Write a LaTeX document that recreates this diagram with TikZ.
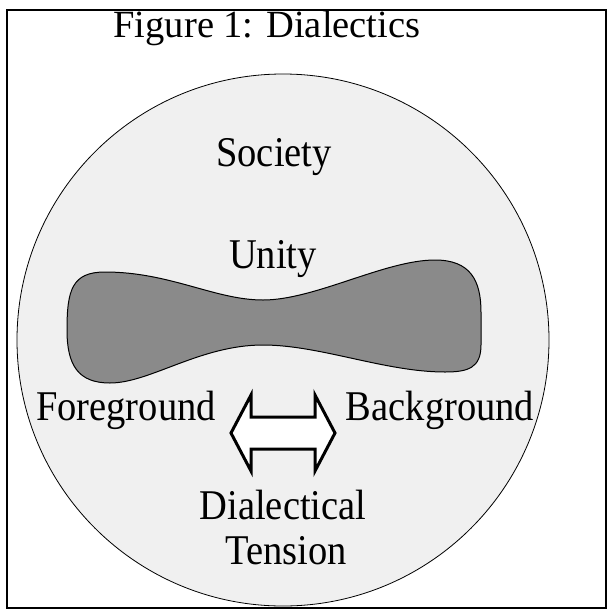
\documentclass[tikz,border=0pt]{standalone}
\usepackage{fontspec}
\setmainfont{Liberation Serif}
\newcommand{\tall}[1]{\scalebox{1}[1.1]{#1}}

\begin{document}
\begin{tikzpicture}[x=0.5pt,y=-0.5pt,
    label/.style={font=\fontsize{19.25}{23}\selectfont, inner sep=0pt, anchor=base},
    blob/.style={fill=black!46, draw=black, line width=0.5pt},
    bigarrow/.style={fill=white, draw=black, line width=1.5pt, line join=miter}]
    \useasboundingbox (0,0) rectangle (610,612);

    % Draw frame and society circle
    \draw[line width=1pt] (7,10) rectangle (606,608);
    \draw[fill=black!6, line width=0.4pt] (283,340) circle[radius=266];

    % Title and labels
    \node[label] (title) at (267,37) {Figure 1: Dialectics};
    \node[label] (society) at (274,166) {\tall{Society}};
    \node[label] (unity) at (273,268) {\tall{Unity}};
    \node[label] (fore) at (126,420) {\tall{Foreground}};
    \node[label] (back) at (440,420) {\tall{Background}};
    \node[label] (dial) at (283,519) {\tall{Dialectical}};
    \node[label] (tension) at (286,564) {\tall{Tension}};

    % Unity shape
    \draw[blob] (67,330) .. controls (67,290) and (72,272) .. (105,272)
        .. controls (170,272) and (215,300) .. (263,300)
        .. controls (315,300) and (385,260) .. (435,260)
        .. controls (470,260) and (481,280) .. (481,312)
        -- (481,345) .. controls (481,368) and (468,372) .. (445,372)
        .. controls (385,372) and (320,345) .. (263,345)
        .. controls (200,345) and (150,383) .. (110,383)
        .. controls (78,383) and (67,365) .. (67,330) -- cycle;

    % Double arrow between foreground and background
    \draw[bigarrow] (231,433) -- (251,395) -- (251,417) -- (315,417) -- (315,395)
        -- (335,433) -- (315,471) -- (315,449) -- (251,449) -- (251,471) -- cycle;
\end{tikzpicture}
\end{document}
